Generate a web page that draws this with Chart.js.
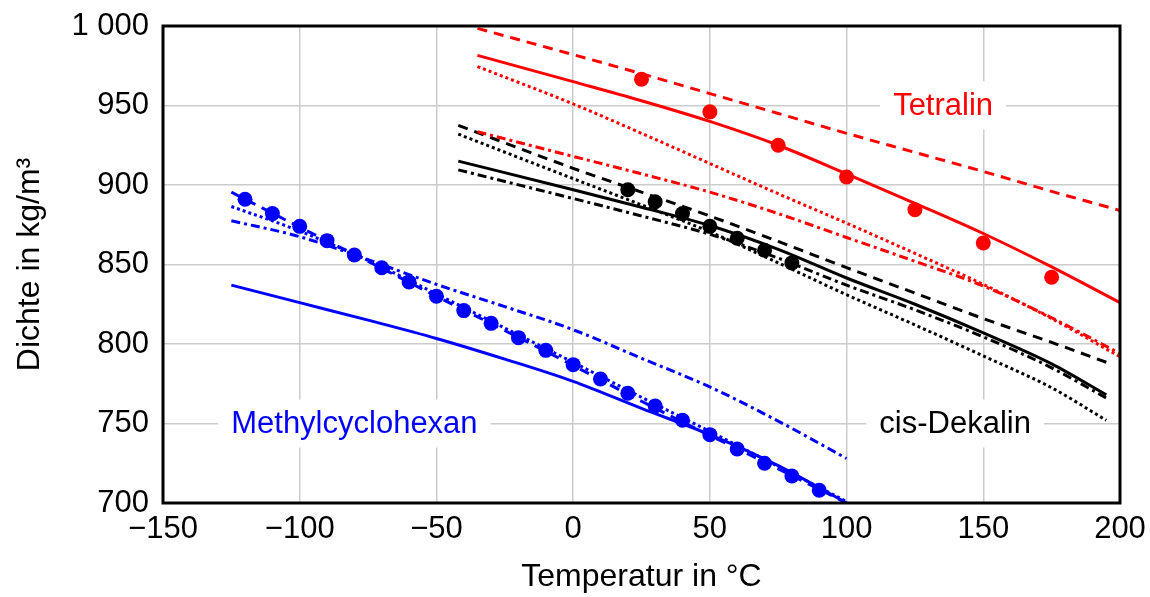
<!DOCTYPE html>
<html>
<head>
<meta charset="utf-8">
<script src="https://cdn.jsdelivr.net/npm/chart.js@4.4.1/dist/chart.umd.min.js"></script>
<style>
  html, body { margin: 0; padding: 0; background: #ffffff; }
  canvas { display: block; }
</style>
</head>
<body>
<canvas id="densityChart" width="1150" height="597"></canvas>
<script>
// Dichte über Temperatur: Messwerte (Punkte) und vier Modelle je Stoff

// Methylcyclohexan
const mchTemps = [-125, -100, -75, -50, -25, 0, 25, 50, 75, 100];
const mchSolid = [837, 826, 815, 803.5, 790.5, 776.5, 759.5, 743, 723.5, 700];
const mchDashed = [895.5, 873.5, 852, 830, 808.5, 786.5, 764, 742.5, 721.5, 700];
const mchDotted = [886.5, 871, 852.5, 831.5, 810, 788.5, 766.5, 745, 723, 701];
const mchDashDot = [877.5, 867.5, 853, 837.5, 823.5, 809, 791, 773, 751.5, 728];
const mchMeasTemps = [-120, -110, -100, -90, -80, -70, -60, -50, -40, -30, -20, -10, 0, 10, 20, 30, 40, 50, 60, 70, 80, 90];
const mchMeas = [891, 882, 874, 865, 856, 848, 839, 830, 821, 813, 804, 796, 787, 778, 769, 761, 752, 743, 734, 725, 717, 708];

// Tetralin
const tetTemps = [-35, 0, 25, 50, 75, 100, 125, 150, 175, 200];
const tetSolid = [981.5, 965, 953, 940, 925, 907, 888.5, 869.5, 848.5, 826];
const tetDashed = [998.5, 982, 970, 957.5, 945, 932.5, 920.5, 908.5, 896, 884];
const tetDotted = [974.5, 951, 932.5, 913.5, 894.5, 876, 857, 837.5, 816, 792];
const tetDashDot = [933.5, 918, 907, 895.5, 882, 867, 852, 836.5, 816.5, 794];
const tetMeasTemps = [25, 50, 75, 100, 125, 150, 175];
const tetMeas = [966.5, 946, 925, 905, 884.5, 863.5, 842];

// cis-Dekalin
const decTemps = [-42, 0, 25, 50, 75, 100, 125, 150, 175, 195];
const decSolid = [915, 897, 886, 874.5, 859.5, 841.5, 825, 807, 787.5, 768];
const decDashed = [937.5, 910.5, 895.5, 880.5, 864.5, 848, 832, 816, 801, 788.5];
const decDotted = [932, 904, 887.5, 870.5, 851, 831, 812, 792.5, 772.5, 752];
const decDashDot = [909.5, 891.5, 880.5, 869, 854, 837, 821.5, 804.5, 785, 766];
const decMeasTemps = [20, 30, 40, 50, 60, 70, 80];
const decMeas = [897, 889.5, 882, 874, 866.5, 859, 851];

// Beschriftungen der Stoffe: [Text, T, Dichte, Farbe]
const curveLabels = [
    ['Tetralin', 135.3, 950, '#ff0000'],
    ['Methylcyclohexan', -80, 750, '#0000ff'],
    ['cis-Dekalin', 139.7, 750, '#000000'],
];

const xTicks = [-150, -100, -50, 0, 50, 100, 150, 200];
const yTicks = [700, 750, 800, 850, 900, 950, 1000];

const FONT = "'Liberation Sans', Arial, Helvetica, sans-serif";
const DASHED = [10, 7];
const DOTTED = [3, 3];
const DASHDOT = [9, 4, 3, 4];

const toPoints = (xs, ys) => xs.map((x, i) => ({ x: x, y: ys[i] }));

function curve(xs, ys, color, dash) {
    return {
        data: toPoints(xs, ys),
        showLine: true,
        borderColor: color,
        backgroundColor: color,
        borderWidth: 3,
        borderDash: dash,
        cubicInterpolationMode: 'monotone',
        pointRadius: 0,
        fill: false
    };
}

function measured(xs, ys, color) {
    return {
        data: toPoints(xs, ys),
        showLine: false,
        backgroundColor: color,
        borderColor: color,
        borderWidth: 0,
        pointRadius: 7.5,
        pointHoverRadius: 7.5
    };
}

// white boxes + names inside the plot
const labelPlugin = {
    id: 'curveLabels',
    afterDatasetsDraw(chart) {
        const { ctx, scales } = chart;
        ctx.save();
        ctx.font = '31px ' + FONT;
        ctx.textAlign = 'center';
        ctx.textBaseline = 'middle';
        curveLabels.forEach(([text, t, rho, color]) => {
            const px = scales.x.getPixelForValue(t);
            const py = scales.y.getPixelForValue(rho);
            const w = ctx.measureText(text).width + 26;
            ctx.fillStyle = '#ffffff';
            ctx.fillRect(px - w / 2, py - 24, w, 48);
            ctx.fillStyle = color;
            ctx.fillText(text, px, py + 1);
        });
        ctx.restore();
    }
};

// closed black frame round the plot area
const framePlugin = {
    id: 'frame',
    afterDraw(chart) {
        const { ctx, chartArea: a } = chart;
        ctx.save();
        ctx.strokeStyle = '#000000';
        ctx.lineWidth = 3;
        ctx.strokeRect(a.left, a.top, a.right - a.left, a.bottom - a.top);
        ctx.restore();
    }
};

document.addEventListener('DOMContentLoaded', () => {
    const ctx = document.getElementById('densityChart').getContext('2d');

    new Chart(ctx, {
        type: 'scatter',
        data: {
            datasets: [
                measured(mchMeasTemps, mchMeas, '#0000ff'),
                measured(tetMeasTemps, tetMeas, '#ff0000'),
                measured(decMeasTemps, decMeas, '#000000'),
                curve(mchTemps, mchSolid, '#0000ff', []),
                curve(mchTemps, mchDashed, '#0000ff', DASHED),
                curve(mchTemps, mchDotted, '#0000ff', DOTTED),
                curve(mchTemps, mchDashDot, '#0000ff', DASHDOT),
                curve(tetTemps, tetSolid, '#ff0000', []),
                curve(tetTemps, tetDashed, '#ff0000', DASHED),
                curve(tetTemps, tetDotted, '#ff0000', DOTTED),
                curve(tetTemps, tetDashDot, '#ff0000', DASHDOT),
                curve(decTemps, decSolid, '#000000', []),
                curve(decTemps, decDashed, '#000000', DASHED),
                curve(decTemps, decDotted, '#000000', DOTTED),
                curve(decTemps, decDashDot, '#000000', DASHDOT)
            ]
        },
        options: {
            responsive: false,
            animation: false,
            events: [],
            layout: { padding: { top: 26, right: 30, left: 0, bottom: 0 } },
            plugins: {
                legend: { display: false },
                tooltip: { enabled: false }
            },
            scales: {
                x: {
                    type: 'linear',
                    min: xTicks[0],
                    max: xTicks[xTicks.length - 1],
                    afterBuildTicks: (scale) => { scale.ticks = xTicks.map(v => ({ value: v })); },
                    afterFit: (scale) => {
                        scale.height = 94;
                        scale.paddingLeft = 0;
                        scale.paddingRight = 0;
                    },
                    grid: { color: '#cccccc', lineWidth: 1.5, drawTicks: false },
                    border: { display: false },
                    ticks: {
                        color: '#000000',
                        padding: 8,
                        maxRotation: 0,
                        font: { family: FONT, size: 31 },
                        callback: (v) => (v < 0 ? '\u2212' + Math.abs(v) : String(v))
                    },
                    title: {
                        display: true,
                        text: 'Temperatur in °C',
                        color: '#000000',
                        padding: { top: 0, bottom: 1 },
                        font: { family: FONT, size: 32 }
                    }
                },
                y: {
                    type: 'linear',
                    min: yTicks[0],
                    max: yTicks[yTicks.length - 1],
                    afterBuildTicks: (scale) => { scale.ticks = yTicks.map(v => ({ value: v })); },
                    afterFit: (scale) => {
                        scale.width = 163;
                        scale.paddingTop = 0;
                        scale.paddingBottom = 0;
                    },
                    grid: { color: '#cccccc', lineWidth: 1.5, drawTicks: false },
                    border: { display: false },
                    ticks: {
                        color: '#000000',
                        padding: 14,
                        font: { family: FONT, size: 31 },
                        callback: (v) => (v >= 1000 ? '1 000' : String(v))
                    },
                    title: {
                        display: true,
                        text: 'Dichte in kg/m³',
                        color: '#000000',
                        padding: { top: 11, bottom: 0 },
                        font: { family: FONT, size: 32 }
                    }
                }
            }
        },
        plugins: [labelPlugin, framePlugin]
    });
});
</script>
</body>
</html>
